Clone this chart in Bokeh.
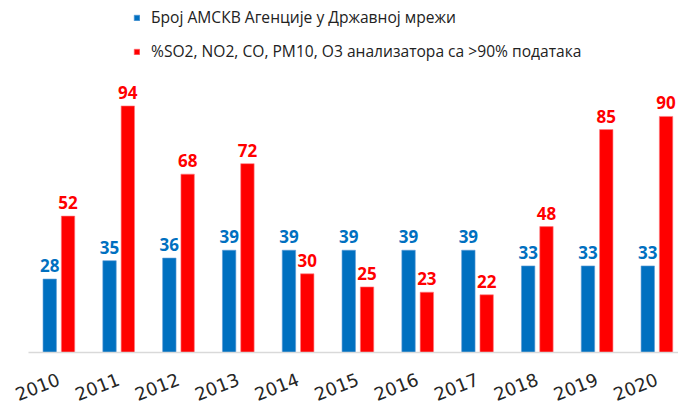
from bokeh.plotting import figure
from bokeh.models import ColumnDataSource, FixedTicker, Range1d, Legend, LegendItem
from bokeh.embed import file_html
from bokeh.resources import INLINE
from bokeh.core.properties import value
from bokeh.transform import dodge

years = ["2010", "2011", "2012", "2013", "2014", "2015", "2016", "2017", "2018", "2019", "2020"]
stations = [28, 35, 36, 39, 39, 39, 39, 39, 33, 33, 33]
percent_valid = [52, 94, 68, 72, 30, 25, 23, 22, 48, 85, 90]
series_names = [
    "Број АМСКВ Агенције у Државној мрежи",
    "%SO2, NO2, CO, PM10, O3 анализатора са >90% података",
]

BLUE = "#0070C0"
RED = "#FF0000"

idx = list(range(len(years)))
src = ColumnDataSource(dict(
    x=idx,
    stations=stations,
    pct=percent_valid,
    sl=[str(v) for v in stations],
    pl=[str(v) for v in percent_valid],
))

p = figure(width=678, height=410, output_backend="svg", toolbar_location=None,
           x_range=Range1d(-0.508, 10.361), y_range=Range1d(0, 134.2),
           min_border_left=28, min_border_right=0, min_border_top=0, min_border_bottom=57)
p.outline_line_color = None
p.grid.visible = False
p.yaxis.visible = False
p.background_fill_color = "white"

off = 0.153
bw = 0.224
b1 = p.vbar(x=dodge("x", -off, range=p.x_range), top="stations", width=bw, source=src,
            fill_color=BLUE, line_color="#5B9BD5", line_width=1, line_alpha=0.6)
b2 = p.vbar(x=dodge("x", off, range=p.x_range), top="pct", width=bw, source=src,
            fill_color=RED, line_color="#FF7C80", line_width=1, line_alpha=0.6)

p.text(x=dodge("x", -off, range=p.x_range), y="stations", text="sl", source=src,
       text_align="center", text_baseline="bottom", y_offset=-7,
       text_font=value("Open Sans"), text_font_style="bold", text_font_size="17px",
       text_color=BLUE)
p.text(x=dodge("x", off, range=p.x_range), y="pct", text="pl", source=src,
       text_align="center", text_baseline="bottom", y_offset=-7,
       text_font=value("Open Sans"), text_font_style="bold", text_font_size="17px",
       text_color=RED)

ax = p.xaxis[0]
ax.ticker = FixedTicker(ticks=idx)
ax.major_label_overrides = {i: y for i, y in enumerate(years)}
ax.major_label_orientation = 0.37
ax.major_label_text_font = "DejaVu Sans"
ax.major_label_text_font_size = "18px"
ax.major_label_text_color = "#262626"
ax.major_label_standoff = 26
ax.axis_line_color = "#D9D9D9"
ax.axis_line_width = 1.5
ax.major_tick_line_color = None
ax.minor_tick_line_color = None
ax.major_tick_out = 0
ax.major_tick_in = 0

legend = Legend(items=[LegendItem(label=series_names[0], renderers=[b1]),
                       LegendItem(label=series_names[1], renderers=[b2])],
                location=(105, 290), glyph_width=7, glyph_height=7, label_standoff=11,
                spacing=12, padding=0, margin=0, border_line_color=None,
                background_fill_alpha=0, label_text_font="Open Sans",
                label_text_font_size="15.6px", label_height=20, label_text_color="#222222")
p.add_layout(legend)

open("out.html", "w").write(file_html(p, INLINE))
